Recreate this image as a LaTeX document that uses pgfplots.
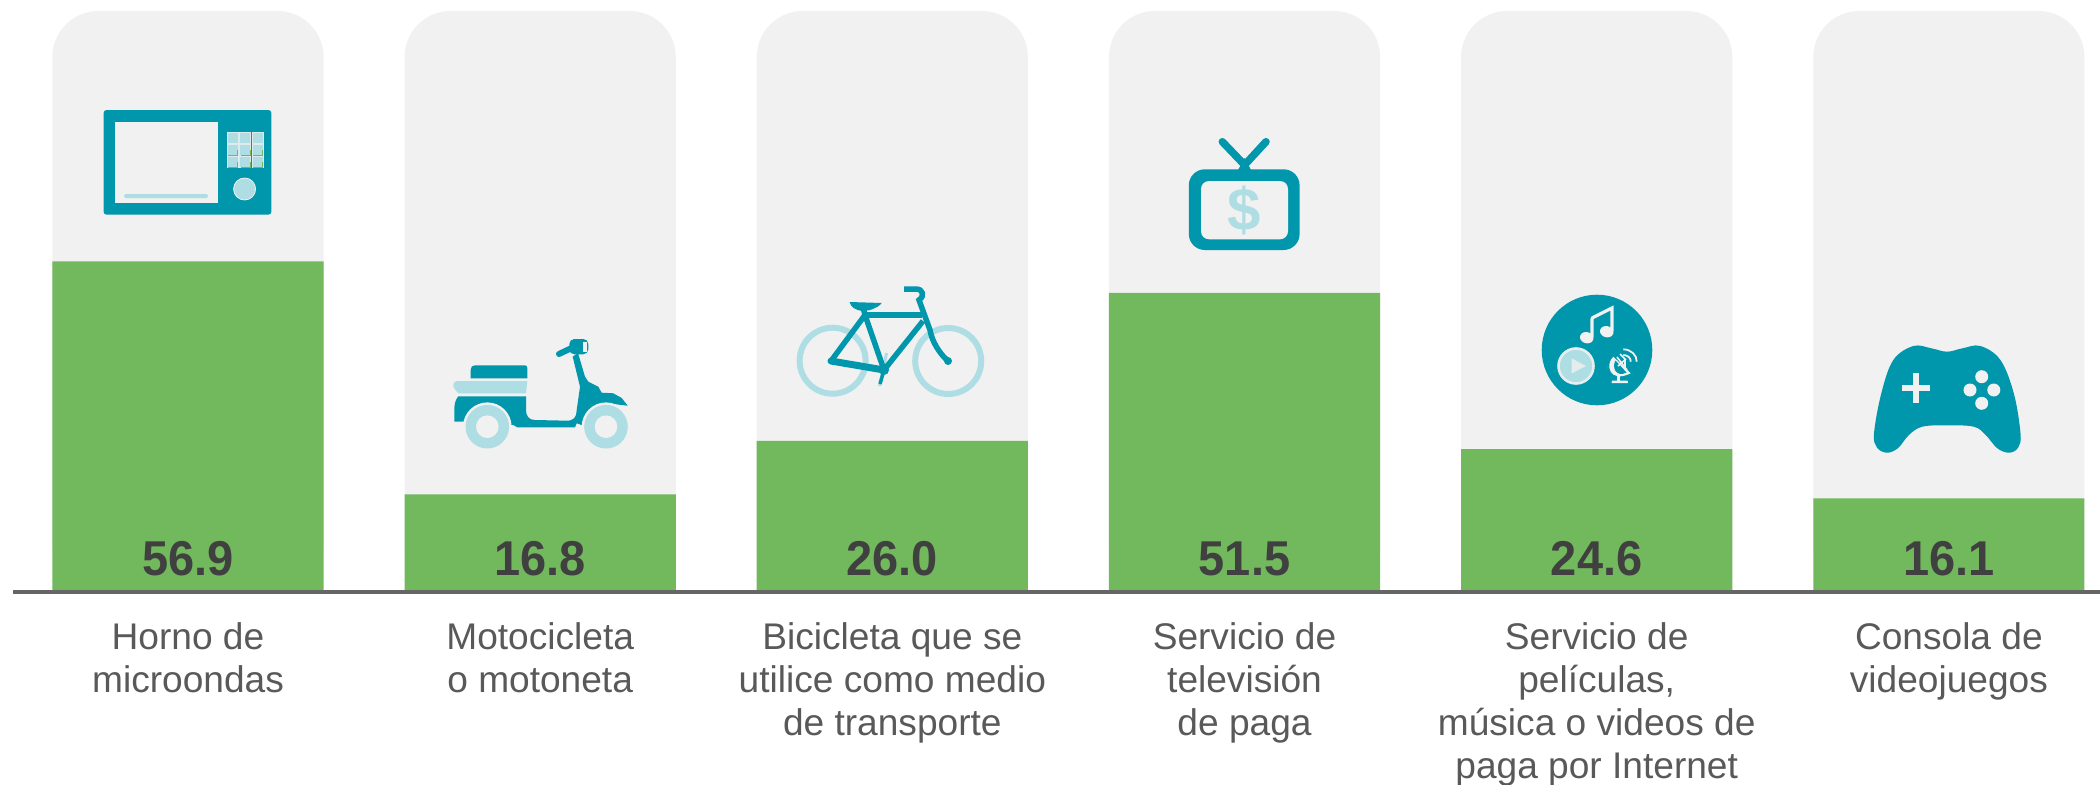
\documentclass[border=0pt]{standalone}
\usepackage{fontspec}
\setmainfont{Liberation Sans}
\usepackage{pgfplots}
\pgfplotsset{compat=1.18}
\definecolor{barra}{HTML}{72B85C}
\definecolor{fondo}{HTML}{F1F1F1}
\definecolor{teal}{HTML}{0097AC}
\definecolor{claro}{HTML}{AEDDE3}
\definecolor{valor}{HTML}{404040}
\definecolor{texto}{HTML}{595959}
\definecolor{eje}{HTML}{666666}

\begin{document}
\begin{tikzpicture}
\path[use as bounding box] (0,0) rectangle (1050pt,392pt);
\begin{axis}[
    at={(6.5pt,96pt)}, anchor=south west,
    scale only axis, width=1043.5pt, height=290.5pt,
    xmin=-0.4969, xmax=5.429, ymin=0, ymax=100,
    axis x line*=bottom, hide y axis,
    axis line style={eje, line width=2pt, -},
    axis on top,
    xtick={0,1,2,3,4,5},
    major tick length=0pt,
    xticklabels={
        {Horno de\\microondas},
        {Motocicleta\\o motoneta},
        {Bicicleta que se\\utilice como medio\\de transporte},
        {Servicio de\\televisión\\de paga},
        {Servicio de\\películas,\\música o videos de\\paga por Internet},
        {Consola de\\videojuegos}},
    xticklabel style={align=center, text=texto, anchor=north, yshift=-11.7pt,
        font=\fontsize{18.55}{21.5}\selectfont},
    every node near coord/.append style={anchor=center, text=valor, yscale=1.04,
        font=\fontsize{23.5}{28}\selectfont\bfseries},
]
% fondo gris, redondeado arriba (las esquinas de abajo quedan bajo lo verde)
\addplot[ybar, bar width=135.6pt, bar shift=0pt, fill=fondo, draw=none, rounded corners=23pt]
    coordinates {(0,100) (1,100) (2,100) (3,100) (4,100) (5,100)};
\addplot[ybar, bar width=135.6pt, bar shift=0pt, fill=barra, draw=none]
    coordinates {(0,56.9) (1,16.8) (2,26.0) (3,51.5) (4,24.6) (5,16.1)};
\addplot[only marks, mark=none, nodes near coords, point meta=explicit symbolic]
    coordinates {(0,5.7)[56.9] (1,5.7)[16.8] (2,5.7)[26.0] (3,5.7)[51.5] (4,5.7)[24.6] (5,5.7)[16.1]};
\end{axis}

% iconos, en pixeles de la imagen
\begin{scope}[shift={(0,392pt)}, x=0.5pt, y=-0.5pt]
% horno
\fill[teal, rounded corners=1.5pt] (103.6,110) rectangle (271.4,214.7);
\fill[fondo] (114.7,121.7) rectangle (217.9,203);
\fill[claro, rounded corners=1pt] (124,194) rectangle (208,198);
\foreach \xa/\xb in {227/238.4, 239.7/250.4, 251.8/263}
  \foreach \ya/\yb in {132.7/143.3, 144.7/155.3, 156/167.3}
    \filldraw[fill=claro, draw=fondo!70!claro, line width=0.3pt] (\xa,\ya) rectangle (\xb,\yb);
\foreach \xa/\xb/\yb in {228/237/155, 241/250/155, 253/262/155, 228/237/167, 241/250/167, 253/262/167}
  \draw[barra, line width=0.5pt] (\xa,\yb) -- (\xb,\yb) -- (\xb,\yb-5);
\filldraw[fill=claro, draw=fondo, line width=0.4pt] (244.6,189) circle[radius=11];

% moto
\fill[teal] (470.7,378.3) -- (470.7,370) .. controls (470.7,367) and (472,365.3) .. (475,365.3)
    -- (525,365.3) .. controls (526.5,365.3) and (527.3,366.5) .. (527.3,368) -- (527.3,378.3) -- cycle;
\fill[claro] (456.7,381) -- (527.3,381) -- (526,393.3) -- (458.3,393.3)
    .. controls (456,391) and (453.3,388) .. (453.3,385) .. controls (453.3,383) and (455,381) .. (456.7,381) -- cycle;
\fill[teal] (458.3,396.3) -- (526,396.3) -- (526,410) .. controls (526,416) and (529,420) .. (535,420)
    -- (568.3,420.7) .. controls (572,420.5) and (575,418) .. (576,415)
    -- (580,386.7) -- (572.7,356.7) -- (578,353) -- (585,376.7) -- (588.3,381.7)
    -- (598.3,386.7) -- (601.7,392.7) -- (613.3,393.3) -- (621.7,398) -- (627.7,405.7)
    -- (613.3,404) -- (596.7,405) -- (586.7,413.3) -- (581.7,425) -- (576.7,423.3) -- (575,427.3)
    -- (517.3,427.3) -- (513.3,425) -- (465,421.7) -- (454.3,421.7) -- (454.3,408.3)
    .. controls (454.5,403) and (456,399) .. (458.3,396.3) -- cycle;
\fill[teal, rounded corners=2.5pt] (569.3,339) rectangle (588.3,354.3);
\fill[fondo] (582.7,341.5) rectangle (586.5,352);
\draw[teal, line width=3pt, line cap=round] (559,354) -- (571,348.3);
\foreach \xc in {487.3,606}{
  \fill[fondo] (\xc,426.7) circle[radius=24.3];
  \fill[claro] (\xc,426.7) circle[radius=21.8];
  \fill[fondo] (\xc,426.7) circle[radius=11.3];
}

% bicicleta
\draw[claro, line width=3pt] (832.6,360.7) circle[radius=33];
\draw[claro, line width=3pt] (948.2,361) circle[radius=33];
\draw[claro, line width=1.5pt] (886.6,353) -- (879.5,386);
\begin{scope}[teal, line width=2.75pt]
  \draw (865,315) -- (922,315);
  \draw (865,315) -- (884,370);
  \draw (865,315) -- (831,361);
  \draw (884,370) -- (923,321);
  \draw (863,307) -- (865,315);
  \draw[line width=1.75pt] (884,370) -- (880,384);
  \draw[line width=3.5pt, line cap=round] (831,361) -- (884,370);
  \draw (904,289) -- (916,289) .. controls (923,289) and (925,296) .. (919,300)
     -- (930,330) .. controls (932,342) and (940,354) .. (948,361);
\end{scope}
\fill[teal] (884,370) circle[radius=5];
\fill[teal] (948,361) circle[radius=4];
\fill[teal] (849.5,302) -- (881.7,303) .. controls (877,309) and (868,311) .. (862,311)
    .. controls (855,310) and (851,307) .. (849.5,302) -- cycle;

% television
\draw[teal, line width=3.75pt, line cap=round] (1222.3,141.7) -- (1244.6,165) -- (1266,141.7);
\fill[teal] (1244.6,158) -- (1238,170) -- (1251,170) -- cycle;
\fill[teal, rounded corners=8pt] (1188.8,169.3) rectangle (1299.6,250);
\fill[fondo, rounded corners=4pt] (1201,181) rectangle (1288,239.3);
\node[text=claro, font=\fontsize{30}{30}\selectfont\bfseries] at (1244,210.7) {\$};

% musica
\fill[teal] (1597,350) circle[radius=55.3];
\fill[fondo, rotate around={-15:(1586.7,337.7)}] (1586.7,337.7) ellipse[x radius=6.8, y radius=5.6];
\fill[fondo, rotate around={-15:(1606.7,331.7)}] (1606.7,331.7) ellipse[x radius=6.8, y radius=5.6];
\draw[fondo, line width=1.6pt] (1591.9,337) -- (1591.9,320) .. controls (1591.9,318) and (1592.5,317.5) .. (1594,317)
    -- (1611.9,308) -- (1611.9,331);
\filldraw[fill=claro, draw=fondo!85!claro, line width=1.3pt] (1576,366) circle[radius=17.5];
\fill[fondo!80!claro] (1571.7,358.5) -- (1571.7,373.5) -- (1586,366) -- cycle;
% antena
\fill[fondo] (1613.3,356.7) .. controls (1605,364) and (1609,384) .. (1630.7,373.3) -- cycle;
\fill[teal] (1615.5,360.5) .. controls (1611.5,367) and (1616,378) .. (1626.5,372.5) -- cycle;
\draw[fondo, line width=0.8pt] (1617,357) -- (1627,370) (1620,354) -- (1625,359) -- (1625,368) (1618,366) -- (1626,359);
\draw[fondo, line width=1.2pt] (1618.3,376) -- (1618.3,381);
\fill[fondo] (1612,380.5) -- (1627.5,380.5) -- (1628,383) -- (1611.5,383) -- cycle;
\draw[fondo, line width=0.9pt] (1623.3,355) .. controls (1627.5,355) and (1631,358) .. (1630.7,361.7);
\draw[fondo, line width=0.9pt] (1623.3,349.3) .. controls (1631,349.5) and (1637,355) .. (1636.7,361.7);

% mando
\fill[teal] plot[smooth cycle, tension=0.6] coordinates {
    (1874,433.3) (1876.8,447.3) (1886.6,452.7) (1897.8,448.3) (1908.9,435) (1922.3,426.7)
    (1946.9,425.3) (1973.7,426.7) (1985.7,435) (1997.3,448.3) (2009.4,452.7) (2018.3,447.3)
    (2020.5,433.3) (2013.8,393.3) (2000.4,360) (1980.4,346) (1962.5,348.3) (1947,351.7)
    (1931.3,348.3) (1913.4,346) (1893.3,360) (1881.3,393.3)};
\draw[fondo, line width=2.75pt] (1901.7,388) -- (1930.3,388) (1916,373) -- (1916,403);
\foreach \xc/\yc in {1981.7/376.7, 1981.7/403.3, 1970/390, 1993.8/390}
  \fill[fondo] (\xc,\yc) circle[radius=6.5];
\end{scope}
\end{tikzpicture}
\end{document}
